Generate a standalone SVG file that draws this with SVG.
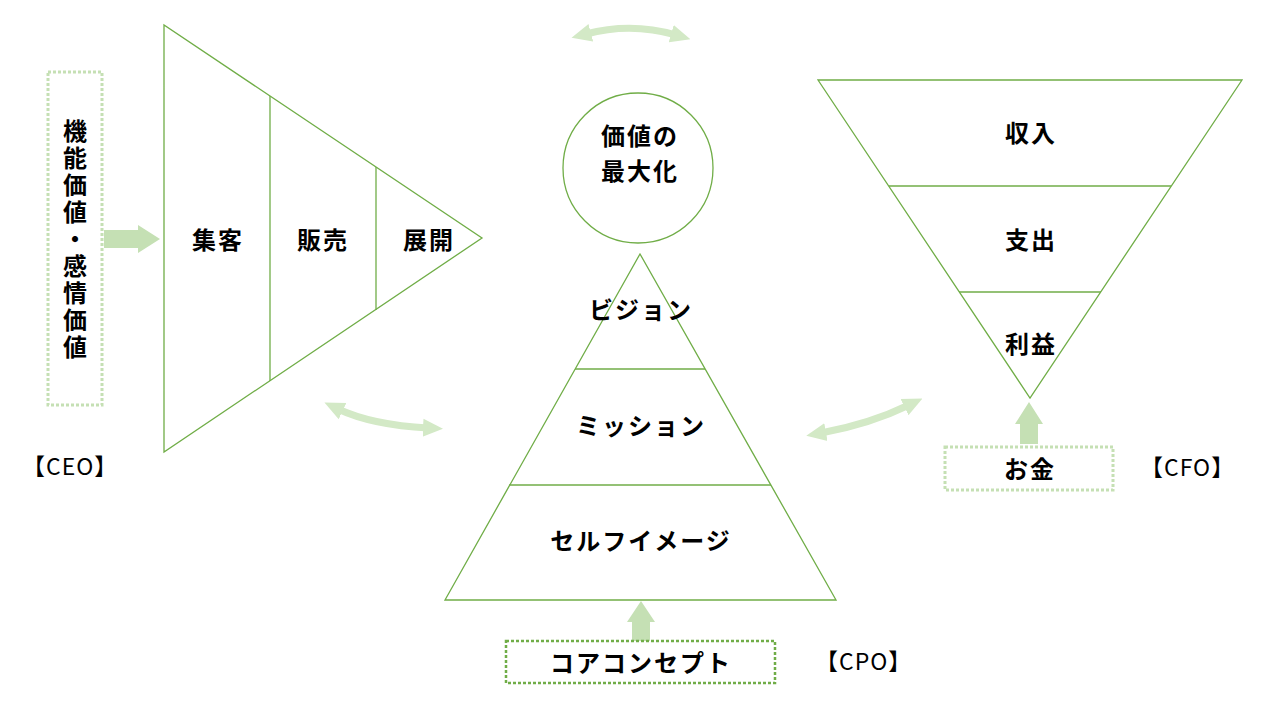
<svg xmlns="http://www.w3.org/2000/svg" width="1280" height="720" viewBox="0 0 1280 720">
<defs>
<style>
.shape{fill:#fff;stroke:#70ad47;stroke-width:1.3}
.line{stroke:#70ad47;stroke-width:1.3;fill:none}
.lbl{font-family:"Noto Sans CJK JP","Noto Sans CJK SC",sans-serif;font-weight:bold;font-size:24px;letter-spacing:2px;fill:#000;text-anchor:middle;dominant-baseline:central}
.vert{font-family:"Noto Sans CJK JP","Noto Sans CJK SC",sans-serif;font-weight:bold;font-size:24px;letter-spacing:3px;fill:#000;text-anchor:middle;writing-mode:vertical-rl}
.role{font-family:"Noto Sans CJK JP","Noto Sans CJK SC",sans-serif;font-size:23px;letter-spacing:1px;fill:#000;dominant-baseline:central}
.dotL{fill:#fff;stroke:#c5e0b4;stroke-width:3;stroke-dasharray:3 2}
.dotD{fill:#fff;stroke:#70ad47;stroke-width:2.5;stroke-dasharray:3 2}
.arr{fill:#c5e0b4}
.curve{fill:none;stroke:#d3e9c6;stroke-width:7}
</style>
<marker id="hd" markerUnits="userSpaceOnUse" markerWidth="20" markerHeight="20" viewBox="0 0 20 20" refX="5" refY="10" orient="auto-start-reverse">
<path d="M0,1 L20,10 L0,19 z" fill="#d3e9c6"/>
</marker>
</defs>
<rect width="1280" height="720" fill="#fff"/>

<g id="connectors">
<path class="arr" d="M104,230 H138 V225 L160,239 L138,253 V248 H104 z"/>
<path class="arr" d="M632,641 V622 H627 L641,601 L655,622 H650 V641 z"/>
<path class="arr" d="M1020,444 V424 H1015 L1029,402 L1043,424 H1038 V444 z"/>
<path class="curve" d="M586,34 Q631,22 676,35" marker-start="url(#hd)" marker-end="url(#hd)"/>
<path class="curve" d="M338,409 Q372,425 428,428" marker-start="url(#hd)" marker-end="url(#hd)"/>
<path class="curve" d="M821,433 Q870,424 909,405" marker-start="url(#hd)" marker-end="url(#hd)"/>
</g>

<g id="value-box">
<rect class="dotL" x="48" y="72" width="54" height="333"/>
<text class="vert" x="75" y="240">機能価値・感情価値</text>
</g>

<g id="funnel">
<polygon class="shape" points="164,25 164,452 482,238"/>
<line class="line" x1="270" y1="96" x2="270" y2="381"/>
<line class="line" x1="376" y1="167" x2="376" y2="310"/>
<text class="lbl" x="218" y="238">集客</text>
<text class="lbl" x="323" y="238">販売</text>
<text class="lbl" x="429" y="238">展開</text>
</g>

<g id="ceo"><text class="role" x="22" y="465">【CEO】</text></g>

<g id="maximize">
<circle class="shape" cx="638" cy="168" r="75"/>
<text class="lbl" x="640" y="134">価値の</text>
<text class="lbl" x="640" y="169">最大化</text>
</g>

<g id="pyramid">
<polygon class="shape" points="640,254 836,600 445,600"/>
<line class="line" x1="575" y1="369" x2="705" y2="369"/>
<line class="line" x1="509" y1="485" x2="771" y2="485"/>
<text class="lbl" x="641" y="308">ビジョン</text>
<text class="lbl" x="641" y="424">ミッション</text>
<text class="lbl" x="641" y="539">セルフイメージ</text>
</g>

<g id="core">
<rect class="dotD" x="506" y="641" width="269" height="42"/>
<text class="lbl" x="641" y="661">コアコンセプト</text>
</g>

<g id="cpo"><text class="role" x="815" y="660">【CPO】</text></g>

<g id="inv-pyramid">
<polygon class="shape" points="818,80 1242,80 1030,398"/>
<line class="line" x1="889" y1="186" x2="1171" y2="186"/>
<line class="line" x1="959" y1="292" x2="1101" y2="292"/>
<text class="lbl" x="1031" y="131">収入</text>
<text class="lbl" x="1031" y="238">支出</text>
<text class="lbl" x="1031" y="342">利益</text>
</g>

<g id="money">
<rect class="dotL" x="945" y="447" width="168" height="43"/>
<text class="lbl" x="1030" y="467">お金</text>
</g>

<g id="cfo"><text class="role" x="1140" y="466">【CFO】</text></g>
</svg>
